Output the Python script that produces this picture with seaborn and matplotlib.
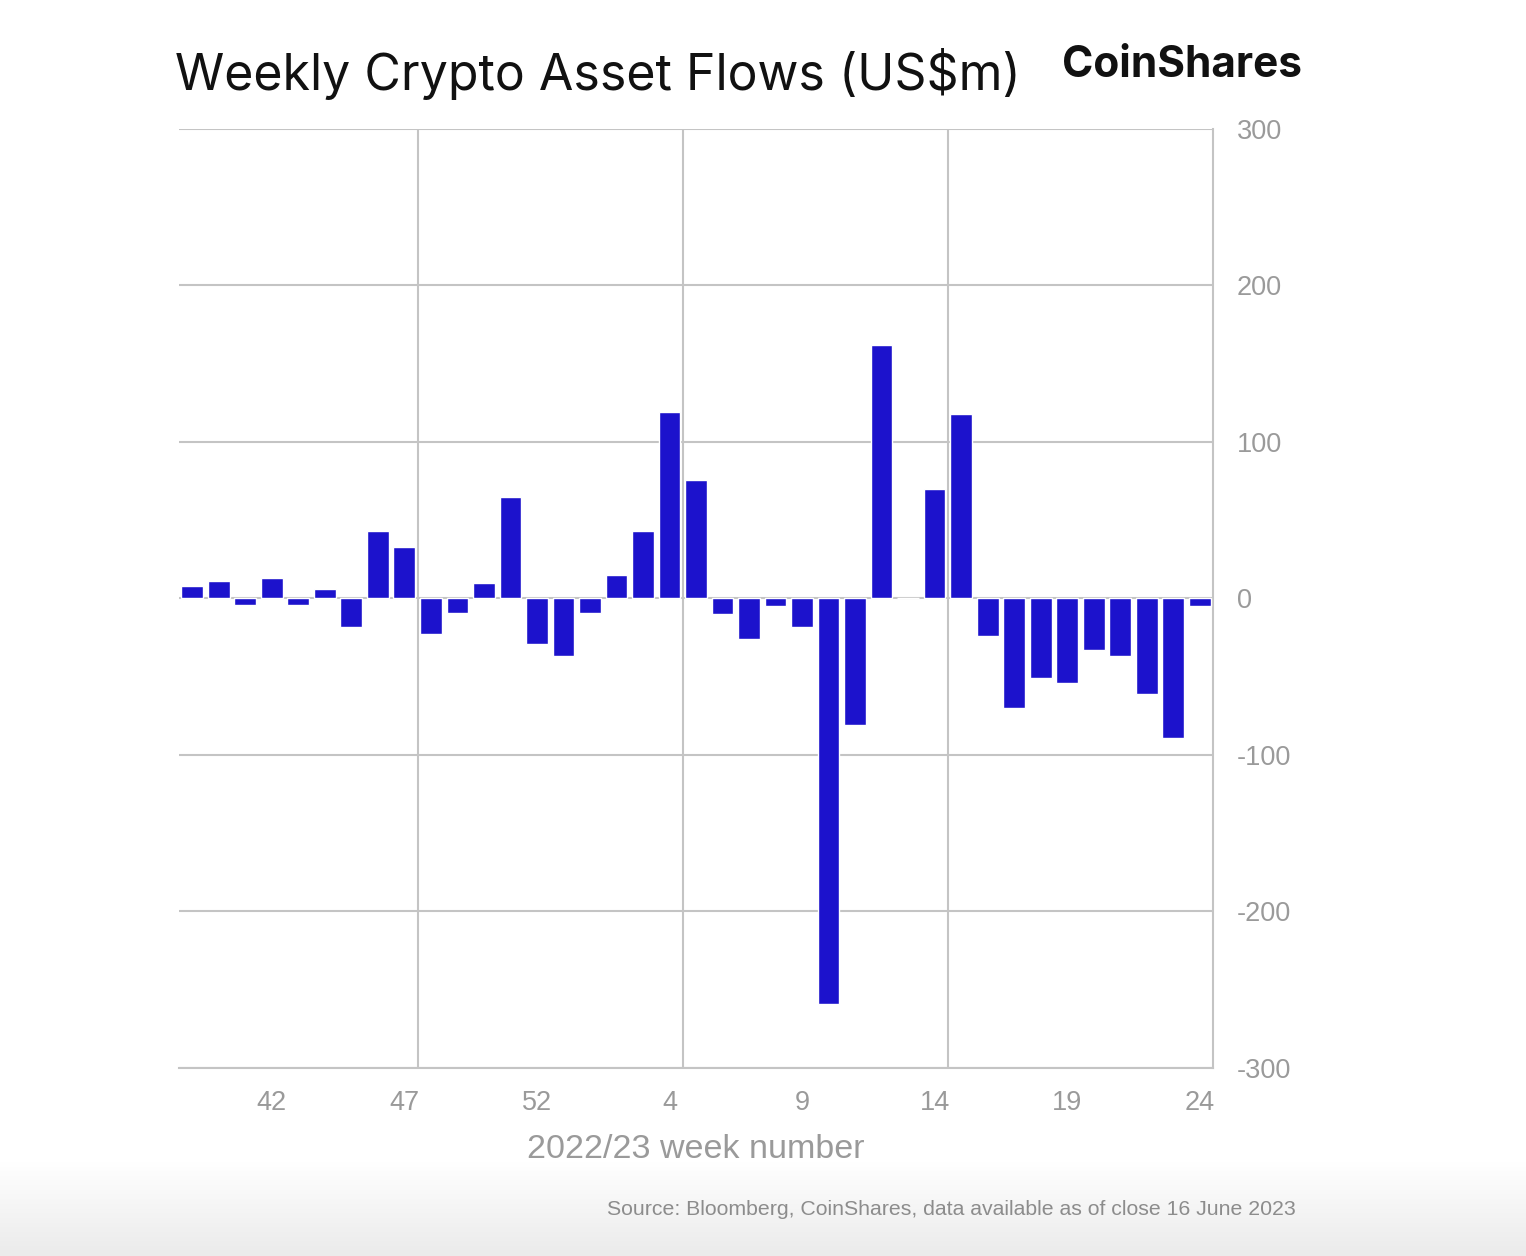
import numpy as np
import pandas as pd
import matplotlib
matplotlib.use("Agg")
import matplotlib.pyplot as plt
import seaborn as sns

# Weekly flows, week 39 of 2022 to week 24 of 2023 (US$m)
weeks = [str(w) for w in range(39, 54)] + [str(w) for w in range(1, 25)]
flows = [8, 11, -4, 13, -4, 6, -18, 43, 33, -23,
         -9, 10, 65, -29, -37, -9, 15, 43, 119, 76,
         -10, -26, -5, -18, -259, -81, 162, 0, 70, 118,
         -24, -70, -51, -54, -33, -37, -61, -89, -5]
shown_weeks = ["42", "47", "52", "4", "9", "14", "19", "24"]
y_ticks = [-300, -200, -100, 0, 100, 200, 300]

df = pd.DataFrame({"week": weeks, "flow": flows})

sns.set_theme(style="white")
plt.rcParams["font.family"] = ["Liberation Sans", "DejaVu Sans"]
plt.rcParams["axes.unicode_minus"] = False

fig = plt.figure(figsize=(15.26, 12.56), dpi=100)
fig.patch.set_facecolor("white")

# faint grey fade at the bottom of the screenshot
bg = fig.add_axes([0, 0, 1, 0.075], zorder=-5)
grad = np.linspace(0, 1, 100).reshape(-1, 1)
bg.imshow(grad, aspect="auto", cmap=matplotlib.colors.LinearSegmentedColormap.from_list(
    "fade", ["#ebebeb", "#ffffff"]), origin="lower", extent=[0, 1, 0, 1])
bg.axis("off")

ax = fig.add_axes([0.1173, 0.1497, 0.6776, 0.7476])
ax.set_facecolor("none")
sns.barplot(data=df, x="week", y="flow", color="#1c12cc", saturation=1,
            width=0.82, ax=ax, zorder=3)

grid_col = "#c4c4c4"
ax.set_xlim(-0.5, len(weeks) - 0.5)
ax.set_ylim(-300, 300)
ax.set_yticks(y_ticks)
ax.yaxis.tick_right()
ax.tick_params(axis="y", length=0, pad=17, labelsize=19.5, labelcolor="#9a9a9a")
ax.grid(axis="y", color=grid_col, linewidth=1.5, zorder=0)

pos = [weeks.index(w) for w in shown_weeks]
ax.set_xticks(pos)
ax.set_xticklabels(shown_weeks)
ax.tick_params(axis="x", length=0, pad=16, labelsize=19.5, labelcolor="#9a9a9a")
ax.set_xticks([8.5, 18.5, 28.5], minor=True)
ax.tick_params(axis="x", which="minor", length=0)
ax.grid(axis="x", which="minor", color=grid_col, linewidth=1.5, zorder=0)

for side in ["left", "top"]:
    ax.spines[side].set_visible(False)
for side in ["right", "bottom"]:
    ax.spines[side].set_color(grid_col)
    ax.spines[side].set_linewidth(1.5)

ax.set_ylabel("")
ax.set_xlabel("2022/23 week number", fontsize=24.5, color="#9a9a9a", labelpad=13)

fig.text(0.115, 0.928, "Weekly Crypto Asset Flows (US$m)", fontsize=36,
         color="#111111", family=["Inter", "DejaVu Sans"], va="baseline")
fig.text(0.853, 0.939, "CoinShares", fontsize=30.5, fontweight="bold",
         color="#111111", family=["Inter", "DejaVu Sans"], ha="right", va="baseline")
fig.text(0.849, 0.033, "Source: Bloomberg, CoinShares, data available as of close 16 June 2023",
         fontsize=15.3, color="#8c8c8c", ha="right", va="baseline")

fig.savefig("out.png", dpi=100)
